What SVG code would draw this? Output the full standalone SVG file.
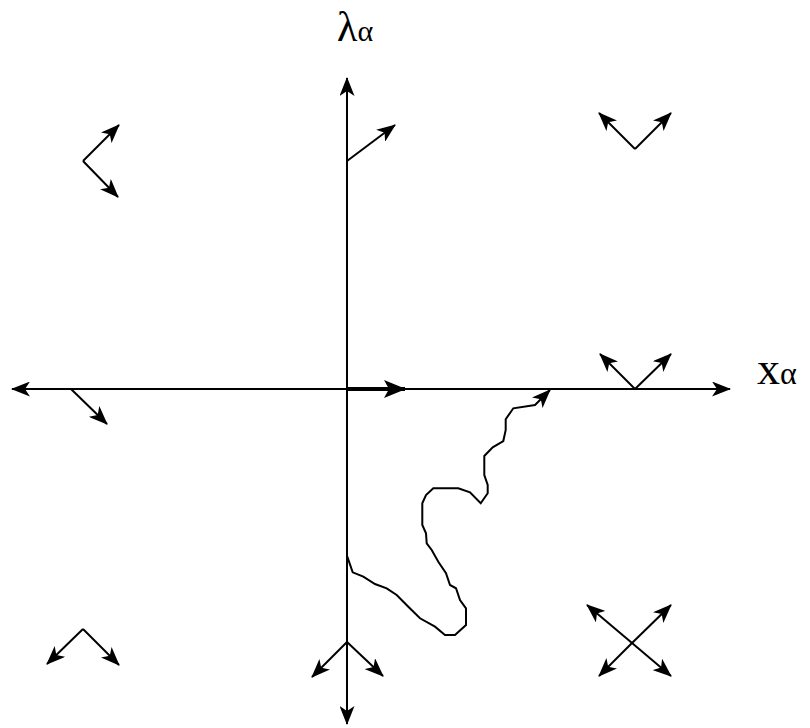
<svg xmlns="http://www.w3.org/2000/svg" width="810" height="728" viewBox="0 0 810 728">
<defs>
<marker id="ah" markerUnits="userSpaceOnUse" markerWidth="19" markerHeight="15" refX="18" refY="7.5" orient="auto">
<path d="M0,0 L19,7.5 L0,15 L5,7.5 Z" fill="#000"/>
</marker>
<marker id="ahb" markerUnits="userSpaceOnUse" markerWidth="22" markerHeight="18" refX="21" refY="9" orient="auto">
<path d="M0,0 L22,9 L0,18 L5,9 Z" fill="#000"/>
</marker>
</defs>
<style>
.a{stroke:#000;stroke-width:2;fill:none;marker-end:url(#ah)}
.t{font-family:"Liberation Serif","Times New Roman",serif;fill:#000}
</style>
<rect width="810" height="728" fill="#fff"/>
<g id="axes">
<line class="a" x1="347" y1="724" x2="347" y2="78"/>
<line class="a" x1="347" y1="642" x2="347" y2="724"/>
<line class="a" x1="347" y1="389" x2="730" y2="389"/>
<line class="a" x1="347" y1="389" x2="12" y2="389"/>
<line x1="347" y1="389" x2="405" y2="389" style="stroke:#000;stroke-width:4;marker-end:url(#ahb)"/>
</g>
<g id="label-lambda"><text class="t" x="337" y="41" font-size="42">λ<tspan font-size="30">α</tspan></text></g>
<g id="label-x"><text class="t" x="757" y="384" font-size="46">x<tspan font-size="32">α</tspan></text></g>
<g id="connectors">
<line class="a" x1="347" y1="161" x2="395" y2="125"/>
<line class="a" x1="83" y1="161" x2="119" y2="125"/>
<line class="a" x1="83" y1="161" x2="118" y2="197"/>
<line class="a" x1="635" y1="149" x2="599" y2="113"/>
<line class="a" x1="635" y1="149" x2="671" y2="113"/>
<line class="a" x1="635" y1="389" x2="600" y2="354"/>
<line class="a" x1="635" y1="389" x2="671" y2="354"/>
<line class="a" x1="71" y1="389" x2="107" y2="424"/>
<line class="a" x1="83" y1="629" x2="47" y2="664"/>
<line class="a" x1="83" y1="629" x2="119" y2="665"/>
<line class="a" x1="347" y1="642" x2="312" y2="677"/>
<line class="a" x1="347" y1="642" x2="383" y2="676"/>
<line class="a" x1="632" y1="643" x2="587" y2="605"/>
<line class="a" x1="632" y1="643" x2="671" y2="676"/>
<line class="a" x1="632" y1="643" x2="671" y2="605"/>
<line class="a" x1="632" y1="643" x2="599" y2="676"/>
<polyline class="a" points="347.3,556.7 352.7,572.3 363.3,576.7 375,584 386.7,588.3 396.7,595 408.3,606.7 420,618.3 435,626.7 445,635 455,635 466,625 466,608.3 460,600 456,588.3 450,585 446,573.3 438.3,561.7 431.7,550 426.7,543.3 426,533.3 422.3,525 422.3,503.3 426,495 433.3,488.3 458.3,488.3 470,492.3 480.7,503.3 487.7,493.3 487.7,485 484.3,475 484.3,456 492.7,447.3 503.3,441 505.7,430 505.7,419.3 513.3,408.3 535,405 550,390"/>
</g>
</svg>
